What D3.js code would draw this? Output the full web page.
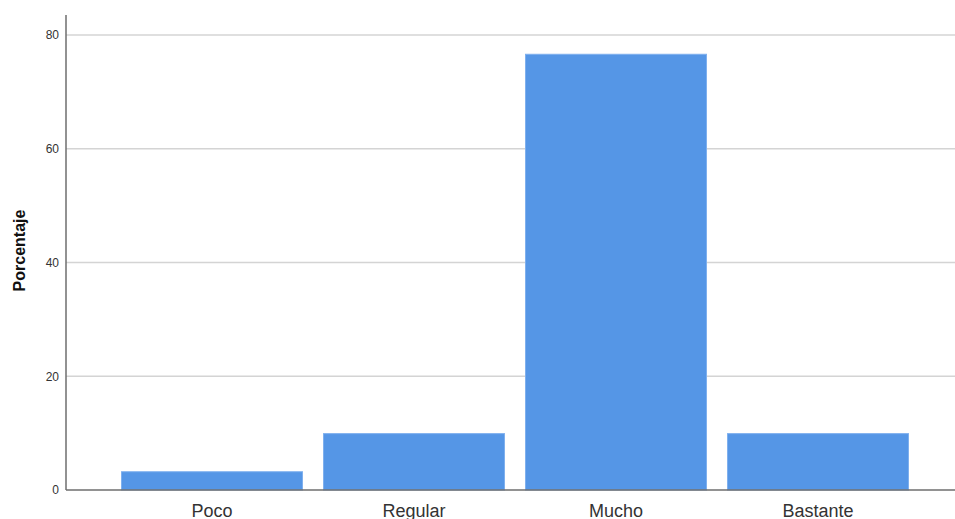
<!DOCTYPE html>
<html><head><meta charset="utf-8">
<script src="https://cdn.jsdelivr.net/npm/d3@7"></script>
<style>body{margin:0;background:#fff}svg{display:block}text{font-family:"Liberation Sans",Arial,sans-serif}</style>
</head><body><svg id="c" width="955" height="519"></svg>
<script>
const categories = ["Poco", "Regular", "Mucho", "Bastante"];
const values = [3.3, 10.0, 76.7, 10.0];
const yTicks = [0, 20, 40, 60, 80];
const yLabel = "Porcentaje";

const svg = d3.select("#c");
const x0 = 66, xEnd = 955, yBase = 490;
const y = d3.scaleLinear().domain([0, 80]).range([yBase, 35]);
const x = d3.scaleBand().domain(categories).range([111, 919]).paddingInner(20/202).paddingOuter(10/202);

// gridlines
svg.append("g").selectAll("line").data(yTicks.filter(d => d > 0)).join("line")
  .attr("x1", x0).attr("x2", xEnd).attr("y1", d => y(d)).attr("y2", d => y(d))
  .attr("stroke", "#d4d4d4").attr("stroke-width", 1.6);

// bars
svg.append("g").selectAll("rect").data(values).join("rect")
  .attr("x", (d, i) => x(categories[i]) + 0.5)
  .attr("y", d => y(d) + 0.5)
  .attr("width", x.bandwidth() - 1)
  .attr("height", d => yBase - y(d) - 0.5)
  .attr("fill", "#5596e6").attr("stroke", "#7fb0ee").attr("stroke-width", 1);

// y axis
const ya = svg.append("g").attr("transform", `translate(${x0},0)`)
  .call(d3.axisLeft(y).tickValues(yTicks).tickSize(0).tickPadding(7));
ya.select(".domain").remove();
ya.selectAll("text").attr("font-size", 12).attr("fill", "#333").attr("font-family", "Liberation Sans, Arial, sans-serif");
svg.append("line").attr("x1", x0).attr("x2", x0).attr("y1", 15).attr("y2", yBase)
  .attr("stroke", "#6e6e6e").attr("stroke-width", 1.5);

// x axis
const xa = svg.append("g").attr("transform", `translate(0,${yBase})`)
  .call(d3.axisBottom(x).tickSize(0).tickPadding(14));
xa.select(".domain").remove();
xa.selectAll("text").attr("font-size", 18).attr("fill", "#333").attr("font-family", "Liberation Sans, Arial, sans-serif");
svg.append("line").attr("x1", x0).attr("x2", xEnd).attr("y1", yBase).attr("y2", yBase)
  .attr("stroke", "#6e6e6e").attr("stroke-width", 1.5);

// y label
svg.append("text").attr("transform", `translate(25,${y(40) - 12}) rotate(-90)`)
  .attr("text-anchor", "middle").attr("font-size", 16).attr("font-weight", "bold")
  .attr("fill", "#111").text(yLabel);
</script></body></html>
